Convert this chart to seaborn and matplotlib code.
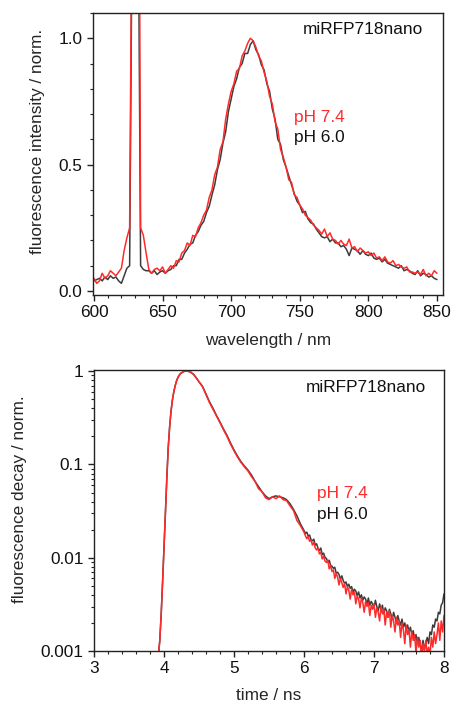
import numpy as np
import pandas as pd
import matplotlib
matplotlib.use("Agg")
import matplotlib.pyplot as plt
from matplotlib.ticker import MultipleLocator, FixedLocator, FixedFormatter, LogLocator, NullFormatter
import seaborn as sns

# ---------------- data: emission spectra ----------------
wavelength = list(range(600, 852, 2))  # nm

emission_ph74 = [
    0.05, 0.03, 0.04, 0.07, 0.05, 0.06, 0.08, 0.07, 0.06, 0.075,
    0.09, 0.16, 0.21, 0.25, 1.8, 3.0, 3.0, 0.25, 0.22, 0.15,
    0.085, 0.07, 0.085, 0.09, 0.08, 0.095, 0.07, 0.085, 0.10, 0.09,
    0.12, 0.115, 0.15, 0.16, 0.19, 0.18, 0.22, 0.215, 0.25, 0.27,
    0.30, 0.32, 0.37, 0.40, 0.46, 0.49, 0.56, 0.59, 0.68, 0.74,
    0.79, 0.82, 0.87, 0.88, 0.93, 0.95, 0.98, 1.00, 0.99, 0.965,
    0.93, 0.91, 0.865, 0.83, 0.77, 0.74, 0.67, 0.64, 0.56, 0.53,
    0.49, 0.44, 0.43, 0.38, 0.37, 0.34, 0.325, 0.30, 0.29, 0.28,
    0.26, 0.25, 0.24, 0.225, 0.245, 0.215, 0.23, 0.205, 0.20, 0.185,
    0.20, 0.185, 0.18, 0.205, 0.17, 0.175, 0.155, 0.17, 0.16, 0.15,
    0.155, 0.14, 0.15, 0.13, 0.135, 0.12, 0.135, 0.115, 0.11, 0.12,
    0.10, 0.105, 0.095, 0.09, 0.095, 0.075, 0.075, 0.07, 0.075, 0.065,
    0.085, 0.06, 0.07, 0.06, 0.08, 0.07,
]

emission_ph60 = [
    0.04, 0.045, 0.05, 0.04, 0.055, 0.045, 0.06, 0.05, 0.055, 0.04,
    0.03, 0.06, 0.09, 0.10, 1.6, 3.0, 1.8, 0.10, 0.085, 0.08,
    0.08, 0.07, 0.08, 0.065, 0.075, 0.08, 0.07, 0.08, 0.085, 0.10,
    0.10, 0.125, 0.125, 0.15, 0.165, 0.185, 0.19, 0.22, 0.235, 0.26,
    0.275, 0.31, 0.335, 0.38, 0.42, 0.48, 0.52, 0.585, 0.63, 0.71,
    0.76, 0.81, 0.84, 0.885, 0.90, 0.94, 0.94, 0.975, 0.99, 0.955,
    0.935, 0.895, 0.875, 0.82, 0.79, 0.72, 0.68, 0.60, 0.58, 0.52,
    0.49, 0.455, 0.42, 0.385, 0.355, 0.34, 0.31, 0.315, 0.285, 0.27,
    0.265, 0.245, 0.23, 0.215, 0.21, 0.215, 0.195, 0.205, 0.19, 0.19,
    0.175, 0.18, 0.165, 0.14, 0.17, 0.165, 0.16, 0.145, 0.16, 0.145,
    0.14, 0.15, 0.13, 0.125, 0.13, 0.115, 0.125, 0.11, 0.105, 0.10,
    0.095, 0.09, 0.10, 0.08, 0.085, 0.08, 0.07, 0.065, 0.08, 0.06,
    0.07, 0.065, 0.055, 0.06, 0.05, 0.045,
]

# ---------------- data: fluorescence decays ----------------
time_rise = [3.92, 3.94, 3.96, 3.98, 4.00, 4.02, 4.04, 4.06, 4.08, 4.10,
             4.12, 4.14, 4.16, 4.18, 4.20, 4.22, 4.24, 4.26, 4.28, 4.30,
             4.32, 4.34, 4.36, 4.38, 4.40, 4.42, 4.44, 4.46, 4.48, 4.50]
decay_rise = [0.0009, 0.0013, 0.0025, 0.0055, 0.013, 0.030, 0.070, 0.15, 0.25, 0.37,
              0.49, 0.60, 0.70, 0.79, 0.86, 0.91, 0.95, 0.97, 0.99, 1.00,
              1.00, 1.00, 0.99, 0.98, 0.95, 0.93, 0.89, 0.85, 0.81, 0.77]

time_mid = [4.55, 4.60, 4.65, 4.70, 4.75, 4.80, 4.85, 4.90, 4.95, 5.00,
            5.05, 5.10, 5.15, 5.20, 5.25, 5.30, 5.35, 5.40, 5.45, 5.50,
            5.55, 5.60, 5.65, 5.70, 5.75, 5.80, 5.85, 5.90, 5.95]
decay_mid_ph74 = [0.68, 0.56, 0.46, 0.39, 0.33, 0.28, 0.235, 0.20, 0.165, 0.140,
                  0.120, 0.105, 0.094, 0.085, 0.074, 0.066, 0.055, 0.051, 0.044, 0.042,
                  0.045, 0.043, 0.046, 0.042, 0.041, 0.036, 0.032, 0.025, 0.022]
decay_mid_ph60 = [0.69, 0.57, 0.47, 0.40, 0.335, 0.285, 0.24, 0.205, 0.17, 0.143,
                  0.123, 0.107, 0.096, 0.087, 0.077, 0.066, 0.058, 0.051, 0.046, 0.043,
                  0.045, 0.046, 0.045, 0.044, 0.042, 0.038, 0.033, 0.028, 0.023]

time_tail = [round(6.0 + 0.02 * i, 2) for i in range(101)]
decay_tail_ph60 = [
    0.0196, 0.0182, 0.0188, 0.0171, 0.0175, 0.0156, 0.0152, 0.0158, 0.0137, 0.0141,
    0.0126, 0.0120, 0.0127, 0.0108, 0.0112, 0.0101, 0.0098, 0.0090, 0.0094, 0.0083,
    0.0081, 0.0077, 0.0079, 0.0068, 0.0070, 0.0066, 0.0059, 0.0064, 0.0057, 0.0053,
    0.0055, 0.0049, 0.0052, 0.0047, 0.0049, 0.0043, 0.0046, 0.0044, 0.0039, 0.0043,
    0.0037, 0.0040, 0.0035, 0.0038, 0.0036, 0.0032, 0.0037, 0.0031, 0.0034, 0.0032,
    0.0029, 0.0035, 0.0030, 0.0027, 0.0032, 0.0028, 0.0031, 0.0025, 0.0029, 0.0027,
    0.0023, 0.0028, 0.0025, 0.0022, 0.0026, 0.0023, 0.0020, 0.0024, 0.0021, 0.0019,
    0.0022, 0.0018, 0.0020, 0.0017, 0.0019, 0.0016, 0.0018, 0.0015, 0.00165, 0.0013,
    0.0015, 0.0012, 0.0014, 0.00115, 0.0010, 0.0013, 0.00105, 0.0012, 0.0014, 0.0012,
    0.0016, 0.0015, 0.0019, 0.0018, 0.0022, 0.0021, 0.0026, 0.0025, 0.0031, 0.0033,
    0.0041,
]
decay_tail_ph74 = [
    0.0188, 0.0172, 0.0160, 0.0169, 0.0150, 0.0155, 0.0137, 0.0146, 0.0128, 0.0121,
    0.0127, 0.0110, 0.0115, 0.0097, 0.0104, 0.0092, 0.0089, 0.0094, 0.0076, 0.0083,
    0.0071, 0.0074, 0.0060, 0.0068, 0.0062, 0.0051, 0.0060, 0.0054, 0.0048, 0.0053,
    0.0041, 0.0049, 0.0045, 0.0036, 0.0046, 0.0040, 0.0043, 0.0032, 0.0039, 0.0036,
    0.0029, 0.0037, 0.0033, 0.0026, 0.0034, 0.0030, 0.0033, 0.0024, 0.0031, 0.0028,
    0.0032, 0.0023, 0.0029, 0.0026, 0.0021, 0.0030, 0.0025, 0.0028, 0.0019, 0.0026,
    0.0023, 0.0027, 0.0018, 0.0024, 0.0021, 0.0016, 0.0023, 0.0019, 0.0021, 0.0014,
    0.0020, 0.0017, 0.0012, 0.0019, 0.0015, 0.0017, 0.0011, 0.0016, 0.0013, 0.0015,
    0.00095, 0.0014, 0.0011, 0.0013, 0.00088, 0.0012, 0.00098, 0.0013, 0.00092, 0.0011,
    0.0009, 0.0014, 0.0011, 0.0016, 0.0012, 0.0015, 0.0020, 0.0013, 0.0021, 0.0016,
    0.0024,
]

protein = "miRFP718nano"
labels = ["pH 7.4", "pH 6.0"]
colors = ["#ff2a2a", "#3c3c3c"]

# ---------------- figure ----------------
sns.set_style("ticks")
plt.rcParams["font.family"] = ["Liberation Sans", "DejaVu Sans"]
FS = 12.4

fig = plt.figure(figsize=(4.51, 7.03), dpi=100)
ax1 = fig.add_axes([93 / 451, 1 - 295 / 703, 350 / 451, 282 / 703])
ax2 = fig.add_axes([94 / 451, 1 - 651 / 703, 350 / 451, 281 / 703])

spec = pd.DataFrame({"wavelength": wavelength * 2,
                     "intensity": emission_ph60 + emission_ph74,
                     "sample": [labels[1]] * len(wavelength) + [labels[0]] * len(wavelength)})
sns.lineplot(data=spec, x="wavelength", y="intensity", hue="sample",
             hue_order=[labels[1], labels[0]], palette=[colors[1], colors[0]],
             estimator=None, sort=False, lw=1.1, legend=False, ax=ax1)

time_all = time_rise + time_mid + time_tail
dec74 = decay_rise + decay_mid_ph74 + decay_tail_ph74
dec60 = decay_rise + decay_mid_ph60 + decay_tail_ph60
dec = pd.DataFrame({"time": time_all * 2, "decay": dec60 + dec74,
                    "sample": [labels[1]] * len(time_all) + [labels[0]] * len(time_all)})
sns.lineplot(data=dec, x="time", y="decay", hue="sample",
             hue_order=[labels[1], labels[0]], palette=[colors[1], colors[0]],
             estimator=None, sort=False, lw=1.1, legend=False, ax=ax2)

# axes 1
ax1.set_xlim(599.3, 854.4)
ax1.set_ylim(-0.016, 1.10)
ax1.xaxis.set_major_locator(MultipleLocator(50))
ax1.xaxis.set_minor_locator(MultipleLocator(10))
ax1.yaxis.set_major_locator(FixedLocator([0.0, 0.5, 1.0]))
ax1.yaxis.set_major_formatter(FixedFormatter(["0.0", "0.5", "1.0"]))
ax1.yaxis.set_minor_locator(MultipleLocator(0.1))
ax1.set_xlabel("wavelength / nm", fontsize=FS)
ax1.set_ylabel("fluorescence intensity / norm.", fontsize=FS)
ax1.xaxis.set_label_coords(0.5, -0.135)
ax1.yaxis.set_label_coords(-0.136, 0.543)
ax1.text(0.60, 0.94, protein, transform=ax1.transAxes, fontsize=FS, va="center", ha="left", color="#111111")
ax1.text(0.574, 0.631, labels[0], transform=ax1.transAxes, fontsize=FS, va="center", ha="left", color=colors[0])
ax1.text(0.574, 0.557, labels[1], transform=ax1.transAxes, fontsize=FS, va="center", ha="left", color="#111111")

# axes 2
ax2.set_yscale("log")
ax2.set_xlim(3, 8)
ax2.set_ylim(0.001, 1.03)
ax2.xaxis.set_major_locator(MultipleLocator(1))
ax2.xaxis.set_minor_locator(MultipleLocator(0.2))
ax2.yaxis.set_major_locator(FixedLocator([0.001, 0.01, 0.1, 1]))
ax2.yaxis.set_major_formatter(FixedFormatter(["0.001", "0.01", "0.1", "1"]))
ax2.yaxis.set_minor_locator(LogLocator(base=10, subs=np.arange(2, 10) * 1.0))
ax2.yaxis.set_minor_formatter(NullFormatter())
ax2.set_xlabel("time / ns", fontsize=FS)
ax2.set_ylabel("fluorescence decay / norm.", fontsize=FS)
ax2.xaxis.set_label_coords(0.5, -0.132)
ax2.yaxis.set_label_coords(-0.191, 0.541)
ax2.text(0.606, 0.936, protein, transform=ax2.transAxes, fontsize=FS, va="center", ha="left", color="#111111")
ax2.text(0.636, 0.562, labels[0], transform=ax2.transAxes, fontsize=FS, va="center", ha="left", color=colors[0])
ax2.text(0.636, 0.484, labels[1], transform=ax2.transAxes, fontsize=FS, va="center", ha="left", color="#111111")

for ax in (ax1, ax2):
    for s in ax.spines.values():
        s.set_visible(True)
        s.set_linewidth(1.0)
        s.set_color("#222222")
    ax.tick_params(which="both", direction="out", top=False, right=False, colors="#222222",
                   labelsize=FS, labelcolor="#111111")
    ax.tick_params(which="major", length=4, width=1.0)
    ax.tick_params(which="minor", length=2.5, width=0.8)
    ax.grid(False)

fig.savefig("out.png", dpi=100, facecolor="white")
